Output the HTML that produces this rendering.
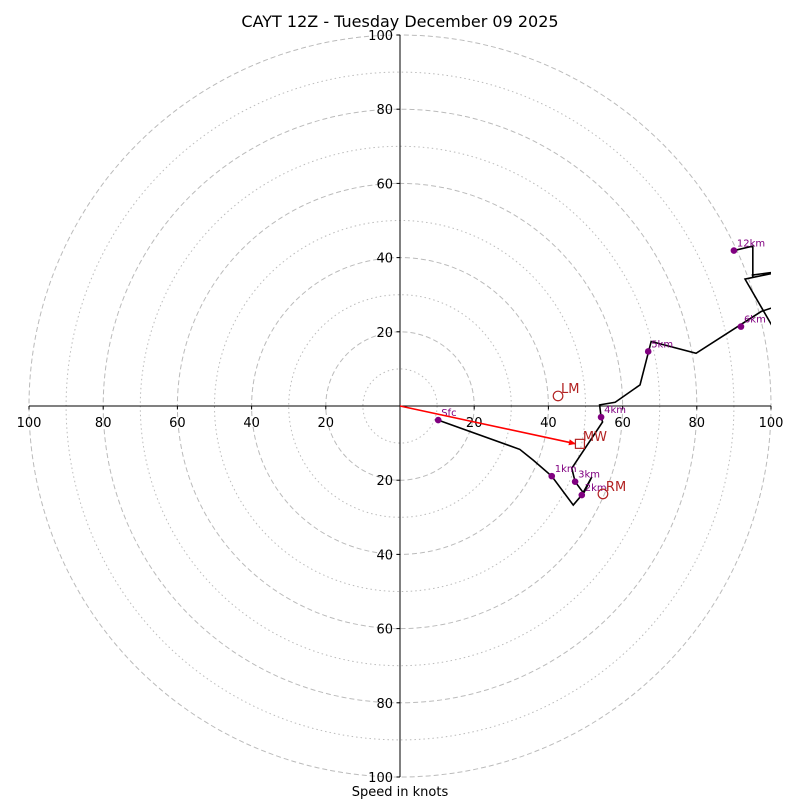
<!DOCTYPE html>
<html><head><meta charset="utf-8"><style>
html,body{margin:0;padding:0;background:#fff;}
svg{display:block;font-family:"DejaVu Sans","Liberation Sans",sans-serif;}
</style></head><body>
<svg id="chart" width="800" height="800" viewBox="0 0 800 800">
<text x="400" y="27" text-anchor="middle" font-size="16">CAYT 12Z - Tuesday December 09 2025</text>
<text x="400" y="796" text-anchor="middle" font-size="13">Speed in knots</text>
<defs><clipPath id="clip"><rect x="29" y="35" width="742" height="742"/></clipPath></defs>
<g id="rings"></g>
<g id="axes"></g>
<g id="trace" clip-path="url(#clip)"></g>
<g id="marks"></g>
</svg>
<script>
const ringValues=[10,20,30,40,50,60,70,80,90,100];
const tickLabels=[20,40,60,80,100];
const traceU=[10.3,32.3,35.9,40.9,46.7,49,51.7,49.5,47.2,46.3,54.6,54.2,53.8,58,64.7,67.7,79.8,97.4,108,101,93,104,95,95.1,95.1,90];
const traceV=[-3.8,-11.7,-14.6,-18.9,-26.7,-24,-19.1,-23.5,-20.4,-16.8,-4.3,-3,0.3,1,5.7,17.4,14.2,25.5,29,20.4,34.2,36.5,35.3,34.8,43.1,41.9];
const levelNames=["Sfc","1km","2km","3km","4km","5km","6km","12km"];
const levelU=[10.3,40.9,49,47.2,54.2,66.9,91.9,90];
const levelV=[-3.8,-18.9,-24,-20.4,-3,14.7,21.4,41.9];
const motionNames=["LM","MW","RM"];
const motionU=[42.6,48.5,54.7];
const motionV=[2.7,-10.2,-23.7];
const CX=400,CY=406,S=3.71;
const X=u=>CX+u*S, Y=v=>CY-v*S;
const NS="http://www.w3.org/2000/svg";
function mk(tag,attrs,parent,text){const e=document.createElementNS(NS,tag);for(const k in attrs)e.setAttribute(k,attrs[k]);if(text!==undefined)e.textContent=text;parent.appendChild(e);return e;}
const rings=document.getElementById('rings'),axes=document.getElementById('axes'),trace=document.getElementById('trace'),marks=document.getElementById('marks');
ringValues.forEach(r=>{
 const c=mk('circle',{cx:CX,cy:CY,r:r*S,fill:'none',stroke:'#bbb','stroke-width':1,'stroke-dasharray':r%20===0?'5,3':'1.5,3'},rings);
 
 
});
let l=mk('line',{x1:X(-100),y1:CY,x2:X(100),y2:CY,stroke:'#000','stroke-width':1},axes);


l=mk('line',{x1:CX,y1:Y(100),x2:CX,y2:Y(-100),stroke:'#000','stroke-width':1},axes);


tickLabels.forEach(t=>{
 [1,-1].forEach(sg=>{
  mk('line',{x1:X(sg*t),y1:CY,x2:X(sg*t),y2:CY+3.5,stroke:'#000'},axes);
  let tx=mk('text',{x:X(sg*t),y:CY+21,'text-anchor':'middle','font-size':13},axes,t);
  
  
  mk('line',{x1:CX-3.5,y1:Y(sg*t),x2:CX,y2:Y(sg*t),stroke:'#000'},axes);
  let ty=mk('text',{x:CX-7,y:Y(sg*t)+5,'text-anchor':'end','font-size':13},axes,t);
  
  
 });
});
const pl=mk('polyline',{points:traceU.map((u,i)=>X(u)+','+Y(traceV[i])).join(' '),fill:'none',stroke:'#000','stroke-width':1.6,'stroke-linejoin':'miter'},trace);


levelNames.forEach((n,i)=>{
 const c=mk('circle',{cx:X(levelU[i]),cy:Y(levelV[i]),r:3.3,fill:'purple'},marks);
 
 
 const t=mk('text',{x:X(levelU[i])+3,y:Y(levelV[i])-4,'font-size':10,fill:'purple'},marks,n);
 
 
});
const mw=1;
const ar=mk('line',{x1:CX,y1:CY,x2:X(motionU[mw])-4,y2:Y(motionV[mw]),stroke:'red','stroke-width':1.6},marks);


const ax=X(motionU[mw])-4,ay=Y(motionV[mw]);
const ang=Math.atan2(ay-CY,ax-CX);
const hp=[[ax,ay],[ax-7*Math.cos(ang)+3*Math.sin(ang),ay-7*Math.sin(ang)-3*Math.cos(ang)],[ax-7*Math.cos(ang)-3*Math.sin(ang),ay-7*Math.sin(ang)+3*Math.cos(ang)]];
const ah=mk('polygon',{points:hp.map(p=>p.join(',')).join(' '),fill:'red'},marks);


motionNames.forEach((n,i)=>{
 const x=X(motionU[i]),y=Y(motionV[i]);
 let m;
 if(n==='MW') m=mk('rect',{x:x-4.5,y:y-4.5,width:9,height:9,fill:'none',stroke:'#b22222','stroke-width':1.2},marks);
 else m=mk('circle',{cx:x,cy:y,r:4.8,fill:'none',stroke:'#b22222','stroke-width':1.2},marks);
 
 
 const t=mk('text',{x:x+3,y:y-3,'font-size':13,fill:'#b22222'},marks,n);
 
 
});
</script>
</body></html>
